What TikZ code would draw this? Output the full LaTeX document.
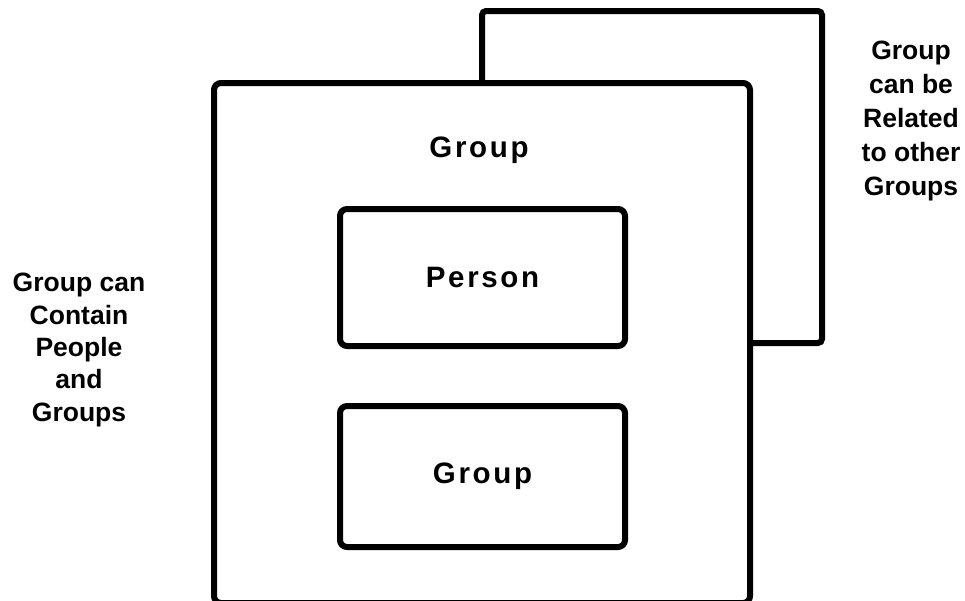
\documentclass[tikz,border=0pt]{standalone}
\usepackage{fontspec}
\setmainfont{Liberation Sans}
\newfontfamily\spaced[LetterSpace=9]{Liberation Sans}
\begin{document}
\begin{tikzpicture}[x=1pt,y=-1pt,
  box/.style={draw, line width=6pt, rounded corners=7pt, inner sep=0pt},
  boxlabel/.style={font=\spaced\bfseries\fontsize{29.5}{33}\selectfont, inner sep=0pt},
  sidetext/.style={align=center, font=\bfseries\fontsize{26.5}{32.3}\selectfont, inner sep=0pt},
  sidetextwide/.style={sidetext, font=\bfseries\fontsize{26.5}{34}\selectfont}]
\useasboundingbox (0,0) rectangle (965,600);
% back (related) group
\draw[line width=6pt, rounded corners=4pt] (482,83) |- (822,11) |- (750,343);
% outer group
\node[box, minimum width=536pt, minimum height=520pt] (outer) at (482,343) {};
\node[boxlabel] (outerlabel) at (479,150) {Group};
\node[box, minimum width=285pt, minimum height=137pt, boxlabel] (person) at (482.5,277.5) {Person};
\node[box, minimum width=285pt, minimum height=141pt, boxlabel] (inner) at (482.5,476.5) {Group};
\node[sidetext] (left) at (79,350) {Group can\\Contain\\People\\and\\Groups};
\node[sidetextwide] (right) at (911,121) {Group\\can be\\Related\\to other\\Groups};
\end{tikzpicture}
\end{document}
